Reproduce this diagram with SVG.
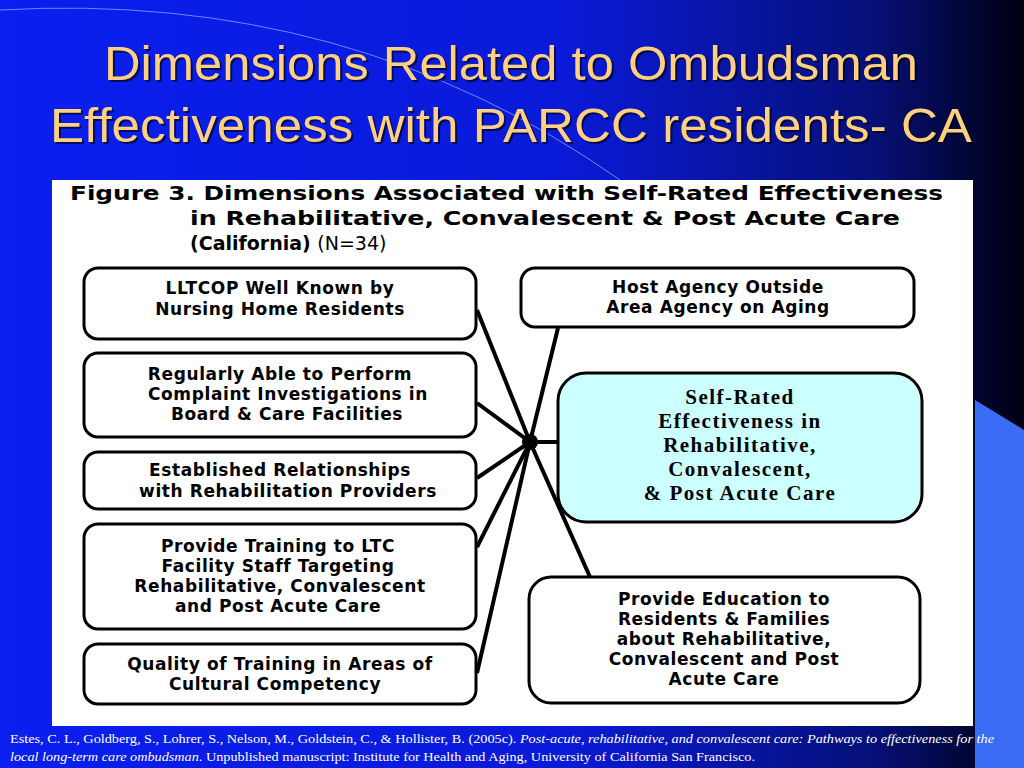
<svg xmlns="http://www.w3.org/2000/svg" width="1024" height="768" viewBox="0 0 1024 768">
<defs>
<linearGradient id="bg" x1="0" y1="0" x2="1" y2="0">
<stop offset="0" stop-color="#0a1ff0"/><stop offset="0.55" stop-color="#0a1ad8"/><stop offset="0.85" stop-color="#06107a"/><stop offset="1" stop-color="#000010"/>
</linearGradient>
<style>
.b{fill:#fff;stroke:#000;stroke-width:3}
.t{font-family:"DejaVu Sans",sans-serif;font-size:17px;font-weight:bold;text-anchor:middle;fill:#000;letter-spacing:0.6px}
.c{font-family:"Liberation Serif",serif;font-size:21px;font-weight:bold;text-anchor:middle;fill:#000;letter-spacing:1.5px}
.l{stroke:#000;stroke-width:4}
</style>
</defs>
<rect width="1024" height="768" fill="url(#bg)"/>
<path d="M975 400 L1024 430 L1024 768 L975 768 Z" fill="#3a6cf5"/>
<path d="M0 10 Q350 -10 620 180" fill="none" stroke="#6f86ff" stroke-width="1"/>
<g font-family="Liberation Sans,Arial,sans-serif" font-size="48" fill="#ffd080">
<text x="106" y="82" fill="#000" opacity="0.6" textLength="814" lengthAdjust="spacingAndGlyphs">Dimensions Related to Ombudsman</text>
<text x="104" y="80" textLength="814" lengthAdjust="spacingAndGlyphs">Dimensions Related to Ombudsman</text>
<text x="52" y="144" fill="#000" opacity="0.6" textLength="922" lengthAdjust="spacingAndGlyphs">Effectiveness with PARCC residents- CA</text>
<text x="50" y="142" textLength="922" lengthAdjust="spacingAndGlyphs">Effectiveness with PARCC residents- CA</text>
</g>
<rect x="52" y="180" width="921" height="546" fill="#fff"/>
<g font-family="DejaVu Sans,sans-serif" font-size="19" font-weight="bold" fill="#000">
<text x="70" y="200" textLength="873" lengthAdjust="spacingAndGlyphs">Figure 3. Dimensions Associated with Self-Rated Effectiveness</text>
<text x="190" y="225" textLength="710" lengthAdjust="spacingAndGlyphs">in Rehabilitative, Convalescent &amp; Post Acute Care</text>
<text x="190" y="250">(California) <tspan font-weight="normal">(N=34)</tspan></text>
</g>
<g id="connectors">
<line class="l" x1="530" y1="442" x2="477" y2="310"/>
<line class="l" x1="530" y1="442" x2="477" y2="403"/>
<line class="l" x1="530" y1="442" x2="477" y2="478"/>
<line class="l" x1="530" y1="442" x2="477" y2="547"/>
<line class="l" x1="530" y1="442" x2="477" y2="673"/>
<line class="l" x1="530" y1="442" x2="558" y2="328"/>
<line class="l" x1="530" y1="442" x2="560" y2="442"/>
<line class="l" x1="530" y1="442" x2="590" y2="577"/>
<circle cx="530" cy="442" r="8" fill="#000"/>
</g>
<g id="n1"><rect class="b" x="84" y="268" width="392" height="71" rx="14"/>
<text class="t" x="280" y="294">LLTCOP Well Known by</text><text class="t" x="280" y="315">Nursing Home Residents</text></g>
<g id="n2"><rect class="b" x="84" y="353" width="392" height="84" rx="14"/>
<text class="t" x="280" y="380">Regularly Able to Perform</text><text class="t" x="288" y="400">Complaint Investigations in</text><text class="t" x="287" y="420">Board &amp; Care Facilities</text></g>
<g id="n3"><rect class="b" x="84" y="452" width="392" height="57" rx="14"/>
<text class="t" x="280" y="476">Established Relationships</text><text class="t" x="288" y="497">with Rehabilitation Providers</text></g>
<g id="n4"><rect class="b" x="84" y="524" width="392" height="105" rx="14"/>
<text class="t" x="278" y="552">Provide Training to LTC</text><text class="t" x="278" y="572">Facility Staff Targeting</text><text class="t" x="280" y="592">Rehabilitative, Convalescent</text><text class="t" x="278" y="612">and Post Acute Care</text></g>
<g id="n5"><rect class="b" x="84" y="644" width="392" height="60" rx="14"/>
<text class="t" x="280" y="670">Quality of Training in Areas of</text><text class="t" x="275" y="690">Cultural Competency</text></g>
<g id="n6"><rect class="b" x="521" y="268" width="393" height="59" rx="14"/>
<text class="t" x="718" y="293">Host Agency Outside</text><text class="t" x="718" y="313">Area Agency on Aging</text></g>
<g id="n7"><rect x="558" y="373" width="364" height="149" rx="28" fill="#ccffff" stroke="#000" stroke-width="3"/>
<text class="c" x="740" y="404">Self-Rated</text><text class="c" x="740" y="428">Effectiveness in</text><text class="c" x="740" y="452">Rehabilitative,</text><text class="c" x="740" y="476">Convalescent,</text><text class="c" x="740" y="500">&amp; Post Acute Care</text></g>
<g id="n8"><rect class="b" x="529" y="577" width="391" height="126" rx="22"/>
<text class="t" x="724" y="605">Provide Education to</text><text class="t" x="724" y="625">Residents &amp; Families</text><text class="t" x="724" y="645">about Rehabilitative,</text><text class="t" x="724" y="665">Convalescent and Post</text><text class="t" x="724" y="685">Acute Care</text></g>
<g font-family="Liberation Serif,serif" font-size="13" fill="#fff">
<text x="10" y="743" textLength="984" lengthAdjust="spacingAndGlyphs">Estes, C. L., Goldberg, S., Lohrer, S., Nelson, M., Goldstein, C., &amp; Hollister, B. (2005c). <tspan font-style="italic">Post-acute, rehabilitative, and convalescent care: Pathways to effectiveness for the</tspan></text>
<text x="10" y="761" textLength="745" lengthAdjust="spacingAndGlyphs"><tspan font-style="italic">local long-term care ombudsman</tspan>. Unpublished manuscript: Institute for Health and Aging, University of California San Francisco.</text>
</g>
</svg>
